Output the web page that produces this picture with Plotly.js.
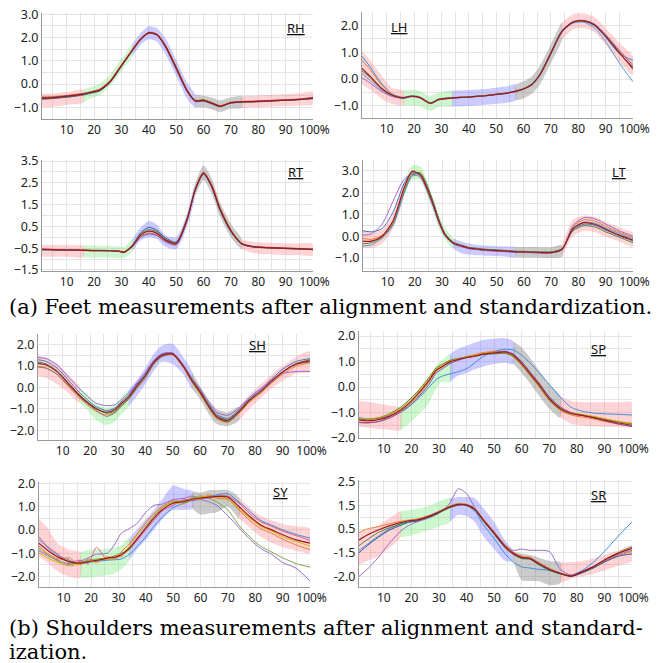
<!DOCTYPE html>
<html><head><meta charset="utf-8">
<script src="https://cdn.plot.ly/plotly-3.0.1.min.js"></script>
<style>html,body{margin:0;padding:0;background:#fff}#c{width:672px;height:663px}</style>
</head><body><div id="c"></div>
<script>
// common x grid (% of gait cycle)
const X = [1,4,8,12,16,19,22,26,29,31,34,37,40,43,46,50,54,57,60,63,66,70,74,78,82,86,90,95,100];
const phaseEdges = [1,16,34,57,74,100];
const xTickVals = [10,20,30,40,50,60,70,80,90,100];
const xTickText = ['10','20','30','40','50','60','70','80','90','\u00a0100%'];

// ---- RH ----
const RH_mean = [-0.60,-0.59,-0.55,-0.50,-0.43,-0.35,-0.26,0.12,0.62,0.95,1.45,1.92,2.20,2.12,1.65,0.70,-0.28,-0.72,-0.70,-0.82,-0.95,-0.80,-0.76,-0.75,-0.73,-0.71,-0.69,-0.66,-0.60];
const RH_hi = [-0.42,-0.41,-0.37,-0.31,-0.24,-0.12,0.00,0.42,0.92,1.22,1.72,2.18,2.48,2.40,1.98,1.05,0.05,-0.45,-0.50,-0.58,-0.70,-0.58,-0.52,-0.50,-0.48,-0.46,-0.44,-0.40,-0.34];
const RH_lo = [-1.00,-0.98,-0.93,-0.87,-0.80,-0.60,-0.48,-0.05,0.40,0.72,1.20,1.68,1.92,1.82,1.30,0.35,-0.62,-1.00,-1.00,-1.08,-1.20,-1.05,-1.02,-1.00,-0.98,-0.96,-0.94,-0.92,-0.88];
const RH_c1 = [-0.65,-0.63,-0.59,-0.54,-0.47,-0.39,-0.30,0.08,0.58,0.92,1.42,1.90,2.18,2.10,1.60,0.64,-0.32,-0.75,-0.73,-0.85,-0.97,-0.82,-0.78,-0.77,-0.75,-0.72,-0.70,-0.67,-0.62];
const RH_c2 = [-0.55,-0.54,-0.51,-0.46,-0.40,-0.32,-0.22,0.16,0.67,1.00,1.50,1.96,2.23,2.15,1.70,0.76,-0.24,-0.69,-0.67,-0.79,-0.92,-0.78,-0.74,-0.73,-0.71,-0.69,-0.67,-0.64,-0.57];
const RH_c3 = [-0.62,-0.61,-0.57,-0.52,-0.45,-0.37,-0.27,0.10,0.60,0.93,1.44,1.91,2.19,2.13,1.67,0.72,-0.26,-0.71,-0.68,-0.80,-0.94,-0.81,-0.77,-0.76,-0.74,-0.72,-0.70,-0.67,-0.63];
const RH_c4 = [-0.58,-0.57,-0.53,-0.48,-0.41,-0.33,-0.24,0.14,0.64,0.97,1.47,1.94,2.21,2.11,1.63,0.68,-0.30,-0.73,-0.72,-0.84,-0.96,-0.79,-0.75,-0.74,-0.72,-0.70,-0.68,-0.65,-0.58];

// ---- LH ----
const LH_mean = [0.40,0.10,-0.33,-0.60,-0.70,-0.64,-0.68,-0.90,-0.76,-0.73,-0.70,-0.68,-0.67,-0.64,-0.62,-0.57,-0.52,-0.46,-0.37,-0.21,0.16,0.96,1.77,2.12,2.17,2.02,1.60,0.98,0.42];
const LH_hi = [1.05,0.70,0.15,-0.33,-0.42,-0.40,-0.44,-0.62,-0.50,-0.46,-0.43,-0.42,-0.41,-0.39,-0.37,-0.32,-0.27,-0.20,-0.08,0.10,0.50,1.30,2.10,2.42,2.45,2.30,1.90,1.35,0.84];
const LH_lo = [-0.20,-0.40,-0.72,-0.92,-0.98,-0.98,-1.00,-1.18,-1.04,-1.02,-1.02,-1.01,-1.00,-0.98,-0.96,-0.92,-0.88,-0.80,-0.72,-0.55,-0.20,0.60,1.45,1.85,1.90,1.75,1.28,0.65,0.14];
const LH_c1 = [0.85,0.45,-0.15,-0.55,-0.68,-0.62,-0.66,-0.88,-0.74,-0.71,-0.69,-0.67,-0.66,-0.63,-0.61,-0.56,-0.51,-0.45,-0.35,-0.18,0.20,1.00,1.80,2.13,2.16,1.98,1.55,0.95,0.70];
const LH_c2 = [0.70,0.35,-0.20,-0.57,-0.69,-0.63,-0.67,-0.89,-0.75,-0.72,-0.70,-0.68,-0.66,-0.64,-0.61,-0.57,-0.52,-0.46,-0.36,-0.20,0.17,0.97,1.76,2.10,2.15,2.03,1.64,1.05,0.55];
const LH_c3 = [0.20,-0.05,-0.40,-0.62,-0.71,-0.65,-0.69,-0.91,-0.77,-0.74,-0.71,-0.69,-0.67,-0.65,-0.62,-0.57,-0.52,-0.45,-0.36,-0.20,0.15,0.93,1.74,2.08,2.12,1.90,1.40,0.60,-0.10];
const LH_c4 = [0.05,-0.15,-0.45,-0.65,-0.72,-0.66,-0.70,-0.92,-0.78,-0.75,-0.72,-0.69,-0.68,-0.65,-0.63,-0.58,-0.53,-0.47,-0.38,-0.22,0.14,0.95,1.78,2.14,2.19,2.05,1.66,1.08,0.50];
const LH_c5 = [0.30,0.05,-0.35,-0.60,-0.70,-0.64,-0.68,-0.90,-0.76,-0.73,-0.70,-0.68,-0.67,-0.64,-0.62,-0.57,-0.52,-0.46,-0.37,-0.21,0.16,0.96,1.77,2.12,2.17,2.02,1.62,1.00,0.35];

// ---- RT ----
const RT_mean = [-0.56,-0.57,-0.58,-0.59,-0.60,-0.61,-0.61,-0.62,-0.64,-0.68,-0.40,0.10,0.28,0.18,-0.12,-0.28,0.82,2.20,2.95,2.35,1.30,0.30,-0.30,-0.43,-0.47,-0.49,-0.51,-0.53,-0.56];
const RT_hi = [-0.35,-0.35,-0.36,-0.37,-0.38,-0.38,-0.39,-0.40,-0.42,-0.45,-0.10,0.45,0.75,0.58,0.10,0.00,1.10,2.50,3.30,2.70,1.62,0.62,-0.10,-0.22,-0.25,-0.26,-0.27,-0.28,-0.30];
const RT_lo = [-0.90,-0.90,-0.90,-0.91,-0.92,-0.93,-0.93,-0.94,-0.95,-0.95,-0.65,-0.15,0.00,-0.08,-0.42,-0.55,0.50,1.90,2.62,2.00,0.95,0.00,-0.55,-0.72,-0.78,-0.80,-0.81,-0.82,-0.84];
const RT_c1 = [-0.58,-0.58,-0.59,-0.60,-0.61,-0.62,-0.62,-0.63,-0.65,-0.70,-0.38,0.20,0.45,0.32,-0.02,-0.22,0.85,2.15,2.90,2.30,1.25,0.25,-0.32,-0.45,-0.48,-0.50,-0.52,-0.54,-0.57];
const RT_c2 = [-0.54,-0.55,-0.56,-0.57,-0.58,-0.59,-0.60,-0.61,-0.63,-0.66,-0.42,0.05,0.20,0.10,-0.18,-0.32,0.78,2.25,3.00,2.42,1.38,0.35,-0.27,-0.41,-0.45,-0.47,-0.49,-0.51,-0.54];
const RT_c3 = [-0.57,-0.57,-0.58,-0.59,-0.60,-0.61,-0.61,-0.62,-0.64,-0.67,-0.36,0.15,0.35,0.25,-0.08,-0.25,0.88,2.22,2.93,2.38,1.34,0.33,-0.29,-0.44,-0.48,-0.50,-0.52,-0.54,-0.57];
const RT_c4 = [-0.55,-0.56,-0.57,-0.58,-0.59,-0.60,-0.60,-0.61,-0.63,-0.69,-0.44,0.00,0.15,0.08,-0.20,-0.35,0.75,2.18,2.97,2.33,1.28,0.28,-0.31,-0.42,-0.46,-0.48,-0.50,-0.52,-0.55];

// ---- LT ----
const LT_mean = [-0.23,-0.23,0.00,0.70,2.19,2.98,2.82,1.72,0.63,0.08,-0.31,-0.44,-0.55,-0.59,-0.63,-0.66,-0.69,-0.72,-0.72,-0.73,-0.75,-0.75,-0.60,0.35,0.62,0.55,0.32,0.05,-0.18];
const LT_hi = [0.25,0.20,0.30,1.00,2.50,3.25,3.20,2.00,0.95,0.40,-0.10,-0.25,-0.35,-0.40,-0.43,-0.46,-0.48,-0.50,-0.50,-0.50,-0.51,-0.51,-0.40,0.75,0.95,0.88,0.65,0.40,0.15];
const LT_lo = [-0.55,-0.55,-0.35,0.35,1.80,2.60,2.55,1.35,0.30,-0.15,-0.55,-0.78,-0.85,-0.88,-0.90,-0.92,-0.94,-0.96,-0.98,-0.98,-0.99,-1.00,-0.95,0.00,0.25,0.18,-0.02,-0.25,-0.50];
const LT_c1 = [0.25,0.20,0.35,1.10,2.40,2.92,2.78,1.65,0.58,0.05,-0.33,-0.46,-0.57,-0.61,-0.65,-0.68,-0.71,-0.74,-0.74,-0.75,-0.77,-0.77,-0.62,0.30,0.55,0.50,0.28,0.02,-0.22];
const LT_c2 = [-0.10,-0.15,0.05,0.60,2.05,2.85,2.88,1.80,0.70,0.12,-0.28,-0.42,-0.53,-0.57,-0.61,-0.64,-0.67,-0.70,-0.70,-0.71,-0.73,-0.73,-0.58,0.45,0.75,0.70,0.45,0.18,-0.05];
const LT_c3 = [0.05,0.10,0.55,1.60,2.60,2.85,2.70,1.60,0.55,0.02,-0.35,-0.48,-0.58,-0.62,-0.66,-0.69,-0.72,-0.74,-0.74,-0.76,-0.77,-0.77,-0.63,0.50,0.85,0.80,0.55,0.25,0.00];
const LT_c4 = [-0.35,-0.30,-0.05,0.55,2.00,2.80,2.92,1.85,0.72,0.14,-0.27,-0.41,-0.52,-0.56,-0.60,-0.63,-0.66,-0.69,-0.70,-0.71,-0.72,-0.72,-0.57,0.25,0.48,0.42,0.20,-0.05,-0.30];
const LT_c5 = [-0.45,-0.40,-0.10,0.50,1.95,2.75,2.80,1.75,0.65,0.10,-0.30,-0.44,-0.55,-0.59,-0.63,-0.66,-0.69,-0.72,-0.72,-0.73,-0.75,-0.75,-0.61,0.38,0.65,0.60,0.38,0.12,-0.12];

// ---- SH ----
const SH_mean = [1.13,1.05,0.73,0.19,-0.36,-0.70,-0.98,-1.16,-1.03,-0.78,-0.44,0.08,0.55,1.15,1.50,1.57,0.97,0.34,-0.20,-0.83,-1.35,-1.55,-1.14,-0.59,-0.18,0.30,0.73,1.10,1.25];
const SH_hi = [1.50,1.40,1.10,0.60,0.05,-0.35,-0.75,-0.95,-0.80,-0.55,-0.10,0.35,0.90,1.55,1.95,2.05,1.40,0.75,0.05,-0.55,-1.00,-1.15,-0.90,-0.35,0.15,0.60,1.00,1.45,1.70];
const SH_lo = [0.55,0.45,0.15,-0.25,-0.70,-1.05,-1.50,-1.75,-1.60,-1.30,-0.90,-0.40,0.15,0.75,1.20,1.10,0.60,-0.05,-0.55,-1.20,-1.70,-1.80,-1.55,-1.00,-0.50,-0.05,0.30,0.65,0.75];
const SH_c1 = [1.30,1.22,0.90,0.35,-0.22,-0.58,-0.88,-1.08,-0.95,-0.70,-0.35,0.15,0.62,1.20,1.55,1.60,1.02,0.40,-0.12,-0.75,-1.25,-1.45,-1.05,-0.52,-0.10,0.40,0.85,1.22,1.35];
const SH_c2 = [1.00,0.92,0.60,0.05,-0.48,-0.82,-1.10,-1.28,-1.15,-0.88,-0.52,0.00,0.48,1.08,1.45,1.52,0.90,0.25,-0.30,-0.92,-1.45,-1.62,-1.22,-0.68,-0.28,0.20,0.62,1.00,1.15];
const SH_c3 = [1.40,1.35,1.05,0.50,-0.05,-0.40,-0.72,-0.85,-0.80,-0.60,-0.25,0.22,0.70,1.25,1.58,1.62,1.05,0.45,-0.05,-0.65,-1.15,-1.30,-0.98,-0.45,-0.05,0.35,0.65,0.75,0.75];
const SH_c4 = [1.20,1.10,0.78,0.22,-0.33,-0.68,-0.96,-1.20,-1.10,-0.85,-0.50,0.05,0.52,1.12,1.48,1.56,0.95,0.30,-0.25,-0.88,-1.40,-1.60,-1.20,-0.62,-0.20,0.28,0.72,1.12,1.30];
const SH_c5 = [0.95,0.90,0.62,0.10,-0.42,-0.75,-1.05,-1.35,-1.18,-0.92,-0.55,-0.05,0.42,1.05,1.42,1.55,0.98,0.38,-0.15,-0.78,-1.30,-1.50,-1.10,-0.55,-0.22,0.25,0.70,1.08,1.20];

// ---- SP ----
const SP_mean = [-1.30,-1.33,-1.28,-1.15,-0.91,-0.65,-0.32,0.20,0.66,0.79,0.99,1.08,1.16,1.21,1.29,1.34,1.38,1.25,0.93,0.53,0.14,-0.45,-0.84,-1.04,-1.11,-1.20,-1.30,-1.41,-1.50];
const SP_hi = [-0.55,-0.58,-0.65,-0.72,-0.80,-0.55,-0.25,0.25,0.85,1.05,1.30,1.50,1.62,1.75,1.85,1.90,1.92,1.80,1.55,1.15,0.70,0.10,-0.35,-0.55,-0.60,-0.60,-0.60,-0.60,-0.60];
const SP_lo = [-1.55,-1.60,-1.65,-1.68,-1.70,-1.45,-1.15,-0.70,-0.05,0.20,0.20,0.45,0.55,0.70,0.80,0.90,0.95,0.90,0.55,0.15,-0.30,-0.85,-1.20,-1.45,-1.52,-1.55,-1.56,-1.56,-1.56];
const SP_c1 = [-1.20,-1.25,-1.22,-1.12,-0.95,-0.75,-0.50,-0.05,0.30,0.42,0.52,0.60,0.72,0.95,1.20,1.40,1.48,1.45,1.25,0.95,0.60,0.10,-0.40,-0.80,-0.95,-1.02,-1.05,-1.07,-1.10];
const SP_c2 = [-1.40,-1.42,-1.35,-1.20,-0.95,-0.70,-0.40,0.15,0.62,0.78,0.98,1.10,1.20,1.28,1.35,1.40,1.35,1.18,0.85,0.45,0.05,-0.52,-0.92,-1.10,-1.18,-1.25,-1.35,-1.45,-1.55];
const SP_c3 = [-1.25,-1.28,-1.22,-1.05,-0.80,-0.52,-0.20,0.32,0.75,0.88,1.05,1.12,1.18,1.22,1.28,1.30,1.32,1.20,0.88,0.48,0.08,-0.50,-0.88,-1.05,-1.12,-1.18,-1.26,-1.36,-1.45];
const SP_c4 = [-1.38,-1.40,-1.36,-1.22,-1.00,-0.78,-0.45,0.05,0.55,0.70,0.92,1.05,1.15,1.22,1.30,1.36,1.40,1.30,1.00,0.60,0.20,-0.38,-0.78,-1.00,-1.10,-1.20,-1.32,-1.45,-1.55];
const SP_c5 = [-1.22,-1.26,-1.20,-1.08,-0.85,-0.58,-0.25,0.28,0.72,0.85,1.02,1.10,1.18,1.25,1.32,1.36,1.36,1.22,0.90,0.50,0.10,-0.48,-0.86,-1.02,-1.08,-1.15,-1.24,-1.35,-1.42];

// ---- SY ----
const SY_mean = [-0.57,-0.86,-1.17,-1.36,-1.43,-1.36,-1.31,-1.21,-1.17,-1.07,-0.79,-0.36,0.07,0.50,0.86,1.14,1.21,1.31,1.36,1.40,1.43,1.40,1.00,0.57,0.21,0.00,-0.21,-0.43,-0.57];
const SY_hi = [0.45,0.10,-0.60,-0.85,-0.95,-0.85,-0.85,-0.80,-0.75,-0.65,-0.35,0.05,0.45,0.85,1.30,1.90,1.75,1.65,1.60,1.70,1.70,1.70,1.40,0.95,0.60,0.40,0.25,0.15,0.05];
const SY_lo = [-1.15,-1.40,-1.80,-2.00,-2.05,-2.05,-2.00,-1.95,-1.85,-1.70,-1.30,-0.80,-0.45,0.00,0.45,0.85,0.85,0.90,0.65,0.70,0.75,1.00,0.50,0.10,-0.30,-0.55,-0.75,-0.90,-1.00];
const SY_c1 = [-0.90,-1.10,-1.30,-1.50,-1.35,-1.20,-1.05,-1.00,-0.55,-0.15,0.05,0.30,0.75,1.05,1.10,1.30,1.35,1.45,1.30,1.20,1.05,0.60,0.10,-0.40,-0.80,-1.05,-1.40,-1.65,-2.20];
const SY_c2 = [-0.40,-0.75,-1.10,-1.30,-1.45,-1.40,-1.35,-1.30,-1.28,-1.25,-1.05,-0.70,-0.30,0.15,0.55,0.95,1.15,1.25,1.30,1.42,1.50,1.55,1.20,0.80,0.40,0.20,0.00,-0.20,-0.35];
const SY_c3 = [-0.70,-1.00,-1.25,-1.20,-1.50,-1.25,-1.40,-1.15,-1.25,-0.95,-0.60,-0.15,0.30,0.70,1.00,1.25,1.20,1.40,1.30,1.50,1.35,1.30,0.85,0.40,0.05,-0.15,-0.40,-0.65,-0.85];
const SY_c4 = [-0.80,-1.05,-1.35,-1.45,-1.40,-1.30,-1.25,-1.20,-1.10,-1.00,-0.85,-0.40,0.10,0.60,0.95,1.20,1.25,1.35,1.45,1.35,1.20,0.85,0.20,-0.30,-0.70,-0.95,-1.20,-1.45,-1.60];
const SY_c5 = [-0.30,-0.70,-1.05,-1.40,-1.30,-1.45,-0.75,-1.30,-1.10,-1.15,-0.80,-0.45,0.00,0.40,0.80,1.05,1.30,1.25,1.40,1.35,1.45,1.45,1.15,0.70,0.35,0.15,-0.05,-0.25,-0.45];
const SY_c6 = [-1.00,-1.20,-1.40,-1.55,-1.45,-1.35,-1.30,-1.25,-1.20,-1.10,-0.70,-0.20,0.20,0.60,0.95,1.15,1.10,1.30,1.40,1.45,1.40,1.30,0.90,0.50,0.15,-0.05,-0.30,-0.50,-0.70];

// ---- SR ----
const SR_mean = [0.04,0.25,0.46,0.63,0.77,0.85,0.88,1.02,1.16,1.27,1.44,1.54,1.51,1.33,0.88,0.32,-0.25,-0.53,-0.70,-0.74,-0.95,-1.20,-1.37,-1.49,-1.30,-1.09,-0.81,-0.53,-0.32];
const SR_hi = [0.35,0.45,0.65,0.95,1.25,1.30,1.35,1.45,1.62,1.70,1.80,1.85,1.85,1.80,1.40,0.80,0.00,-0.45,-0.55,-0.60,-0.70,-0.85,-0.90,-0.90,-0.85,-0.75,-0.60,-0.40,-0.20];
const SR_lo = [-1.02,-0.85,-0.65,-0.30,0.15,0.20,0.30,0.45,0.55,0.65,0.80,1.10,1.05,0.80,0.20,-0.35,-0.85,-0.85,-1.65,-1.70,-1.70,-1.87,-1.78,-1.60,-1.50,-1.40,-1.25,-1.05,-0.85];
const SR_c1 = [-0.40,-0.15,0.20,0.50,0.72,0.82,0.90,1.05,1.20,1.30,1.45,1.55,1.50,1.25,0.70,0.10,-0.55,-0.90,-1.10,-1.15,-1.20,-1.25,-1.40,-1.45,-1.25,-0.90,-0.45,0.20,0.80];
const SR_c2 = [-1.50,-1.20,-0.70,-0.10,0.40,0.65,0.80,0.95,1.10,1.25,1.60,2.20,2.00,1.40,0.90,0.35,-0.20,-0.40,-0.35,-0.40,-0.40,-0.45,-1.20,-1.45,-1.28,-1.10,-0.85,-0.58,-0.40];
const SR_c3 = [0.35,0.50,0.60,0.72,0.82,0.88,0.92,1.05,1.18,1.30,1.48,1.58,1.55,1.38,0.95,0.40,-0.18,-0.48,-0.65,-0.70,-0.90,-1.15,-1.35,-1.48,-1.32,-1.12,-0.88,-0.62,-0.45];
const SR_c4 = [-0.20,0.05,0.35,0.55,0.70,0.80,0.85,0.98,1.12,1.24,1.40,1.50,1.50,1.30,0.85,0.28,-0.30,-0.58,-0.75,-0.78,-1.00,-1.25,-1.40,-1.50,-1.33,-1.10,-0.80,-0.50,-0.25];
const SR_c5 = [-0.50,-0.20,0.15,0.45,0.65,0.78,0.84,1.00,1.14,1.25,1.42,1.52,1.52,1.35,0.90,0.35,-0.22,-0.55,-0.72,-0.76,-0.98,-1.22,-1.38,-1.50,-1.35,-1.15,-0.90,-0.65,-0.55];
const SR_tickVals = [2.5,1.5,0.5,-0.5,-1.5];
const SR_tickText = ['2.5','1.5','0.5','-1.5','-2.0'];

const phaseColors = ['rgba(255,120,130,0.32)','rgba(110,230,110,0.33)','rgba(110,110,255,0.36)','rgba(130,130,130,0.42)','rgba(255,120,130,0.32)'];
const defColors = ['#2F5597','#ED7D31','#548235','#7F4FB0','#C9A000','#5B9BD5'];

const panels = [
 {name:'RH', mean:RH_mean, hi:RH_hi, lo:RH_lo, curves:[RH_c1,RH_c2,RH_c3,RH_c4], xd:[42,313], yd:[13,119], yr:[-1.5,3.05], t0:0, lab:[296,28]},
 {name:'LH', mean:LH_mean, hi:LH_hi, lo:LH_lo, curves:[LH_c1,LH_c2,LH_c3,LH_c4,LH_c5], cols:['#2F8FD8','#ED7D31','#5B9BD5','#9E6ACB','#548235'], xd:[362,633], yd:[12,118], yr:[-1.45,2.5], t0:0, lab:[399,27]},
 {name:'RT', mean:RT_mean, hi:RT_hi, lo:RT_lo, curves:[RT_c1,RT_c2,RT_c3,RT_c4], xd:[42,313], yd:[160,271], yr:[-1.55,3.55], t0:0.5, lab:[296,172]},
 {name:'LT', mean:LT_mean, hi:LT_hi, lo:LT_lo, curves:[LT_c1,LT_c2,LT_c3,LT_c4,LT_c5], cols:['#4472C4','#ED7D31','#9E6ACB','#548235','#5B9BD5'], xd:[363,633], yd:[160,271], yr:[-1.6,3.5], t0:0, lab:[619,172]},
 {name:'SH', mean:SH_mean, hi:SH_hi, lo:SH_lo, curves:[SH_c1,SH_c2,SH_c3,SH_c4,SH_c5], cols:['#4472C4','#ED7D31','#9E6ACB','#548235','#808080'], xd:[38,310], yd:[334,440], yr:[-2.45,2.5], t0:0, lab:[257,345]},
 {name:'SP', mean:SP_mean, hi:SP_hi, lo:SP_lo, curves:[SP_c1,SP_c2,SP_c3,SP_c4,SP_c5], cols:['#3D8EE0','#ED7D31','#548235','#7F4FB0','#C9A000'], xd:[359,632], yd:[331,438], yr:[-2.0,2.2], t0:0, lab:[598,349]},
 {name:'SY', mean:SY_mean, hi:SY_hi, lo:SY_lo, curves:[SY_c1,SY_c2,SY_c3,SY_c4,SY_c5,SY_c6], cols:['#9E6ACB','#3D8EE0','#ED7D31','#70AD47','#E0607E','#D4B000'], xd:[39,310], yd:[482,587], yr:[-2.45,2.05], t0:0, lab:[280,492]},
 {name:'SR', mean:SR_mean, hi:SR_hi, lo:SR_lo, curves:[SR_c1,SR_c2,SR_c3,SR_c4,SR_c5], cols:['#3D8EE0','#9E6ACB','#ED7D31','#548235','#2F5597'], xd:[359,632], yd:[480,587], yr:[-1.95,2.57], t0:0, lab:[598,495], tv:SR_tickVals, tt:SR_tickText}
];

const W = 672, H = 663;
const traces = [];
const layout = {
  width: W, height: H, margin:{l:0,r:0,t:0,b:0}, paper_bgcolor:'#fff', plot_bgcolor:'#fff',
  showlegend:false, annotations:[], shapes:[],
  font:{family:'Noto Sans, Open Sans, sans-serif', size:12.5, color:'#222'}
};

panels.forEach((p, i) => {
  const k = i === 0 ? '' : String(i+1);
  const xa = 'x'+k, ya = 'y'+k;
  const cols = p.cols || defColors;
  for (let s = 0; s < 5; s++) {
    const a = phaseEdges[s], b = phaseEdges[s+1];
    const idx = X.map((v,j)=>j).filter(j => X[j] >= a && X[j] <= b);
    const xs = idx.map(j=>X[j]), his = idx.map(j=>p.hi[j]), los = idx.map(j=>p.lo[j]);
    traces.push({x: xs.concat(xs.slice().reverse()), y: his.concat(los.slice().reverse()),
      xaxis:xa, yaxis:ya, mode:'lines', fill:'toself', fillcolor:phaseColors[s],
      line:{width:0, shape:'spline', smoothing:0.7}, hoverinfo:'skip'});
  }
  p.curves.forEach((c, j) => {
    traces.push({x:X, y:c, xaxis:xa, yaxis:ya, mode:'lines',
      line:{color:cols[j % cols.length], width:1, shape:'spline', smoothing:0.7}, hoverinfo:'skip'});
  });
  traces.push({x:X, y:p.mean, xaxis:xa, yaxis:ya, mode:'lines',
    line:{color:'#A01818', width:1.2, shape:'spline', smoothing:0.7}, hoverinfo:'skip'});

  layout['xaxis'+k] = {domain:[p.xd[0]/W, p.xd[1]/W], range:[1,100], anchor:ya,
    tickvals:xTickVals, ticktext:xTickText, tickangle:0, showgrid:true, gridcolor:'#e4e4e4',
    minor:{tickvals:[5,15,25,35,45,55,65,75,85,95], showgrid:true, gridcolor:'#e4e4e4'},
    showline:true, linecolor:'#9a9a9a', linewidth:1, zeroline:false, ticks:'', tickfont:{size:12, color:'#222'}};
  const yax = {domain:[1-p.yd[1]/H, 1-p.yd[0]/H], range:p.yr, anchor:xa,
    showgrid:true, gridcolor:'#e4e4e4', showline:true, linecolor:'#9a9a9a', linewidth:1, zeroline:false,
    ticks:'', tickfont:{size:12.5, color:'#222'},
    minor:{dtick:0.5, tick0:0, showgrid:true, gridcolor:'#e4e4e4'}};
  if (p.tv) { yax.tickvals = p.tv; yax.ticktext = p.tt; }
  else { yax.tick0 = p.t0; yax.dtick = 1; yax.tickformat = '.1f'; }
  layout['yaxis'+k] = yax;
  layout.annotations.push({xref:'paper', yref:'paper', x:p.lab[0]/W, y:1-p.lab[1]/H,
    text:'<span style="text-decoration:underline">'+p.name+'</span>', showarrow:false,
    font:{size:13, color:'#111'}, xanchor:'center', yanchor:'middle'});
});

const capFont = {family:'DejaVu Serif', size:21, color:'#000'};
layout.annotations.push({xref:'paper', yref:'paper', x:7/W, y:1-307/H, xanchor:'left', yanchor:'middle', showarrow:false,
  text:'(a) Feet measurements after alignment and standardization.', font:capFont});
layout.annotations.push({xref:'paper', yref:'paper', x:7/W, y:1-628/H, xanchor:'left', yanchor:'middle', showarrow:false,
  text:'(b) Shoulders measurements after alignment and standard-', font:capFont});
layout.annotations.push({xref:'paper', yref:'paper', x:7/W, y:1-652/H, xanchor:'left', yanchor:'middle', showarrow:false,
  text:'ization.', font:capFont});

Plotly.newPlot('c', traces, layout, {staticPlot:true, displayModeBar:false});
</script>
</body></html>
